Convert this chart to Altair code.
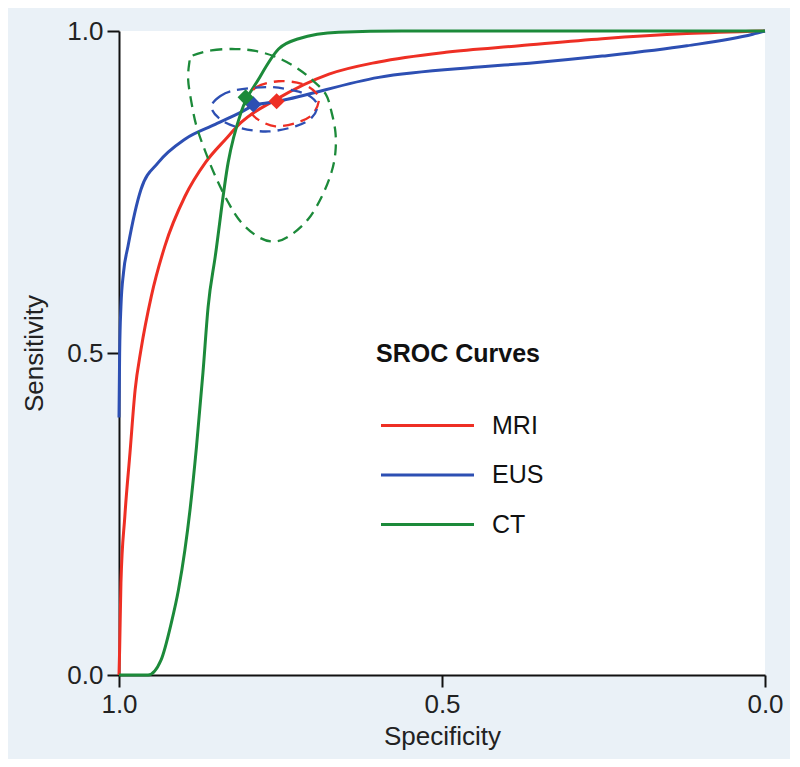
import altair as alt
import pandas as pd

# ---- SROC curves (specificity, sensitivity) ----
mri_spec = [1.0, 0.999, 0.997, 0.991, 0.983, 0.975, 0.966, 0.950, 0.929, 0.898, 0.866, 0.835, 0.811, 0.758, 0.675, 0.598, 0.494, 0.380, 0.252, 0.121, 0.0]
mri_sens = [0.0, 0.04, 0.143, 0.246, 0.345, 0.443, 0.505, 0.588, 0.666, 0.743, 0.796, 0.832, 0.858, 0.893, 0.933, 0.952, 0.967, 0.977, 0.988, 0.996, 1.0]

eus_spec = [1.0, 0.999, 0.997, 0.993, 0.986, 0.966, 0.939, 0.898, 0.851, 0.811, 0.792, 0.753, 0.598, 0.443, 0.365, 0.252, 0.121, 0.019, 0.0]
eus_sens = [0.40, 0.50, 0.572, 0.625, 0.666, 0.754, 0.796, 0.832, 0.855, 0.874, 0.884, 0.891, 0.928, 0.944, 0.950, 0.961, 0.977, 0.995, 1.0]

ct_spec = [1.0, 0.955, 0.935, 0.919, 0.908, 0.898, 0.890, 0.880, 0.870, 0.862, 0.851, 0.831, 0.811, 0.784, 0.753, 0.722, 0.660, 0.562, 0.0]
ct_sens = [0.0, 0.0, 0.023, 0.081, 0.132, 0.194, 0.257, 0.355, 0.470, 0.572, 0.650, 0.796, 0.874, 0.925, 0.972, 0.988, 0.998, 1.0, 1.0]

# ---- summary points ----
pt_test = ["MRI", "EUS", "CT"]
pt_spec = [0.756, 0.792, 0.804]
pt_sens = [0.891, 0.886, 0.897]

# ---- confidence regions (closed contours) ----
mri_reg_spec = [0.800, 0.787, 0.753, 0.717, 0.696, 0.691, 0.702, 0.727, 0.758, 0.784, 0.798]
mri_reg_sens = [0.894, 0.913, 0.922, 0.918, 0.905, 0.890, 0.869, 0.857, 0.852, 0.862, 0.877]

eus_reg_spec = [0.857, 0.843, 0.820, 0.769, 0.727, 0.702, 0.693, 0.702, 0.727, 0.769, 0.811, 0.842]
eus_reg_sens = [0.882, 0.899, 0.908, 0.913, 0.907, 0.897, 0.883, 0.865, 0.852, 0.844, 0.849, 0.862]

ct_reg_spec = [0.888, 0.857, 0.820, 0.789, 0.758, 0.727, 0.702, 0.680, 0.671, 0.665, 0.665, 0.671, 0.686, 0.707, 0.733, 0.758, 0.784, 0.811, 0.831, 0.851, 0.866, 0.880, 0.888, 0.893, 0.891]
ct_reg_sens = [0.961, 0.970, 0.972, 0.969, 0.960, 0.944, 0.925, 0.902, 0.874, 0.843, 0.812, 0.781, 0.743, 0.708, 0.684, 0.673, 0.680, 0.703, 0.734, 0.775, 0.812, 0.852, 0.890, 0.925, 0.952]

tests = ["MRI", "EUS", "CT"]
colors = ["#ee2f24", "#2d4fb3", "#1c8a3a"]


def frame(spec, sens, name):
    return pd.DataFrame({"spec": spec, "sens": sens, "test": name, "i": list(range(len(spec)))})


curves = pd.concat([frame(mri_spec, mri_sens, "MRI"),
                    frame(eus_spec, eus_sens, "EUS"),
                    frame(ct_spec, ct_sens, "CT")])
regions = pd.concat([frame(mri_reg_spec, mri_reg_sens, "MRI"),
                     frame(eus_reg_spec, eus_reg_sens, "EUS"),
                     frame(ct_reg_spec, ct_reg_sens, "CT")])
points = pd.DataFrame({"spec": pt_spec, "sens": pt_sens, "test": pt_test})

FONT = "Liberation Sans"
cscale = alt.Scale(domain=tests, range=colors)

x = alt.X("spec:Q", scale=alt.Scale(domain=[1, 0], nice=False),
          axis=alt.Axis(values=[1, 0.5, 0], format=".1f", title="Specificity", labelFlush=False))
y = alt.Y("sens:Q", scale=alt.Scale(domain=[0, 1], nice=False),
          axis=alt.Axis(values=[0, 0.5, 1], format=".1f", title="Sensitivity", labelFlush=False))

legend = alt.Legend(
    title="SROC Curves", orient="none", legendX=257, legendY=311,
    symbolType="M-4.65,0H4.65", symbolSize=400, symbolStrokeWidth=3,
    symbolOffset=39, labelOffset=52,
    titleFont=FONT, titleFontSize=25, titleFontWeight="bold", titleColor="#111",
    labelFont=FONT, labelFontSize=25, labelColor="#111",
    rowPadding=23.5, titlePadding=46, padding=0,
)

lines = alt.Chart(curves).mark_line(strokeWidth=3, interpolate="monotone").encode(
    x=x, y=y, color=alt.Color("test:N", scale=cscale, legend=legend), order="i:Q"
)

contours = alt.Chart(regions).mark_line(
    strokeWidth=2.3, strokeDash=[11, 7], interpolate="cardinal-closed"
).encode(
    x=x, y=y, color=alt.Color("test:N", scale=cscale, legend=None), order="i:Q"
)

marks = alt.Chart(points).mark_point(shape="diamond", filled=True, size=260, opacity=1).encode(
    x=x, y=y, color=alt.Color("test:N", scale=cscale, legend=None)
)

chart = alt.layer(lines, contours, marks).properties(
    width=646, height=644,
    autosize=alt.AutoSizeParams(type="none"),
    padding={"left": 111, "top": 23, "right": 25, "bottom": 84},
    background="#eaf1f7",
).configure_view(
    fill="white", stroke=None
).configure_axis(
    grid=False, domainColor="#111", domainWidth=2, tickColor="#111", tickWidth=2, tickSize=12,
    labelFont=FONT, labelFontSize=26, labelColor="#222", labelPadding=4,
    titleFont=FONT, titleFontSize=26, titleFontWeight="normal", titleColor="#222",
).configure_axisY(titlePadding=19).configure_axisX(titlePadding=6)

chart.save("out.html", embed_options={"renderer": "svg", "actions": False})
